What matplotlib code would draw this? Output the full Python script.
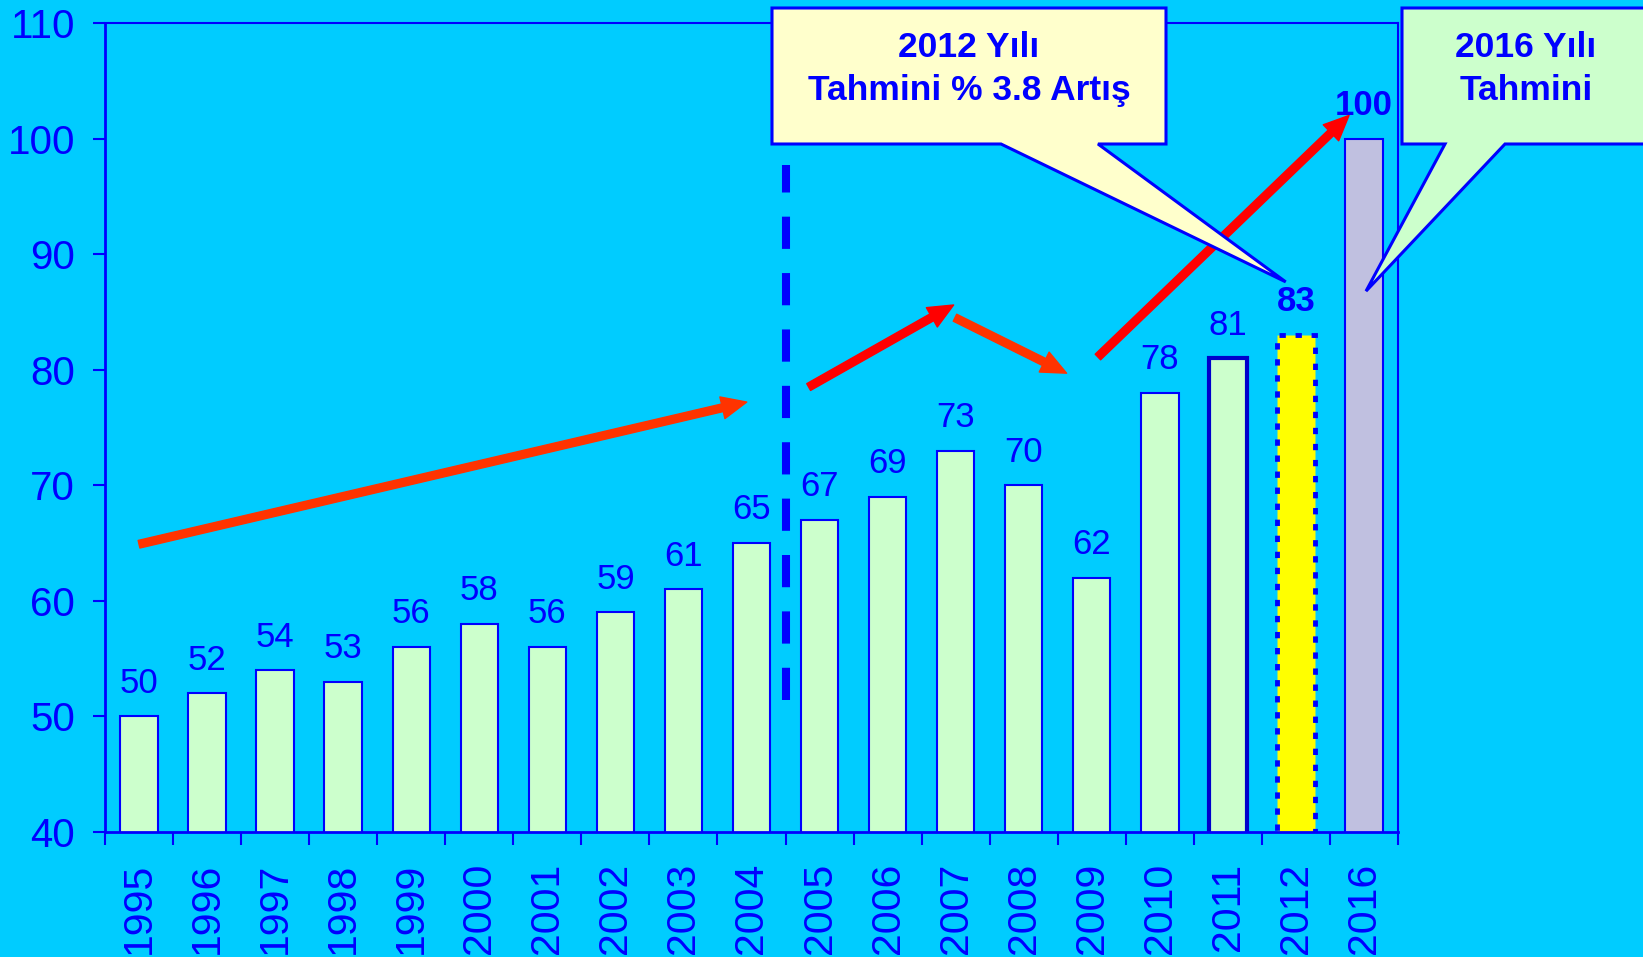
import matplotlib
matplotlib.use('Agg')
import matplotlib.pyplot as plt
from matplotlib.patches import Polygon
import numpy as np

years = ['1995', '1996', '1997', '1998', '1999', '2000', '2001', '2002', '2003', '2004',
         '2005', '2006', '2007', '2008', '2009', '2010', '2011', '2012', '2016']
values = [50, 52, 54, 53, 56, 58, 56, 59, 61, 65, 67, 69, 73, 70, 62, 78, 81, 83, 100]

# trend arrows (start x, start y, end x, end y) in data units, and colours
arrows = [(0.0, 64.9, 8.93, 77.2),
          (9.84, 78.5, 11.97, 85.6),
          (11.99, 84.5, 13.63, 79.7),
          (14.09, 81.1, 17.78, 102.0)]
arrow_colors = ['#FF3300', '#FF0000', '#FF3300', '#FF0000']

divider_x = 9.5
divider_y = (51.4, 97.7)

BG = '#00CCFF'
BLUE = '#0000FF'
W, H = 1643, 957

plt.rcParams['font.family'] = ['Liberation Sans', 'DejaVu Sans']

fig = plt.figure(figsize=(W / 100, H / 100), dpi=100, facecolor=BG)
ax = fig.add_axes([105 / W, 1 - 832 / H, (1398 - 105) / W, (832 - 23) / H])
ax.set_facecolor(BG)

x = np.arange(len(years))
bars = ax.bar(x, values, width=0.55, color='#CCFFCC', edgecolor=BLUE, linewidth=1.5, zorder=2)
bars[16].set_linewidth(3)
bars[16].set_edgecolor('#0000CC')
bars[17].set_facecolor('#FFFF00')
bars[17].set_linewidth(3.5)
bars[17].set_linestyle((0, (1.3, 2.0)))
bars[18].set_facecolor('#C0C0E0')

for i, v in enumerate(values):
    bold = i >= 17
    ax.annotate(str(v), (x[i], v), xytext=(0, 17), textcoords='offset points',
                ha='center', va='baseline', color=BLUE,
                fontsize=25,
                fontweight='bold' if bold else 'normal', zorder=5)

ax.set_xlim(-0.5, len(years) - 0.5)
ax.set_ylim(40, 110)
ax.set_yticks(range(40, 111, 10))
ax.tick_params(axis='y', colors=BLUE, labelsize=29, length=8.6, width=1.5, pad=13)
ax.set_xticks(x)
ax.set_xticklabels(years, rotation=90)
ax.tick_params(axis='x', which='major', length=0, pad=22, labelsize=29.5, labelcolor=BLUE)
ax.set_xticks(np.arange(-0.5, len(years), 1), minor=True)
ax.tick_params(axis='x', which='minor', length=9, width=1.5, color=BLUE)

for name, sp in ax.spines.items():
    sp.set_color(BLUE)
    sp.set_linewidth(2 if name in ('left', 'bottom') else 1.5)

ax.plot([divider_x, divider_x], divider_y, color=BLUE, lw=5.8, dashes=(4, 3), zorder=3)

for (x0, y0, x1, y1), c in zip(arrows, arrow_colors):
    ax.annotate('', xy=(x1, y1), xytext=(x0, y0),
                arrowprops=dict(arrowstyle='simple,head_length=0.9,head_width=0.8,tail_width=0.28',
                                mutation_scale=20, color=c, shrinkA=0, shrinkB=0),
                zorder=4, annotation_clip=False)


def callout(box, base, tip_data, face, text, text_xy):
    l, t, r, b = box
    tip = fig.transFigure.inverted().transform(ax.transData.transform(tip_data))
    pts = [(l, t), (r, t), (r, b), (base[1], b), None, (base[0], b), (l, b)]
    verts = []
    for p in pts:
        if p is None:
            verts.append(tuple(tip))
        else:
            verts.append((p[0] / W, 1 - p[1] / H))
    poly = Polygon(verts, closed=True, facecolor=face, edgecolor=BLUE, lw=2.2,
                   transform=fig.transFigure, zorder=10, clip_on=False)
    fig.add_artist(poly)
    fig.text(text_xy[0] / W, 1 - text_xy[1] / H, text, ha='center', va='center',
             fontsize=25.5, fontweight='bold', color=BLUE, linespacing=1.42, zorder=11)


callout((772, 8, 1166, 144), (1001, 1098), (16.85, 87.6), '#FFFFCC',
        '2012 Yılı\nTahmini % 3.8 Artış', (969, 69))
callout((1402, 8, 1660, 144), (1445, 1505), (18.03, 86.8), '#CCFFCC',
        '2016 Yılı\nTahmini', (1526, 69))

fig.savefig('out.png', dpi=100, facecolor=BG)
